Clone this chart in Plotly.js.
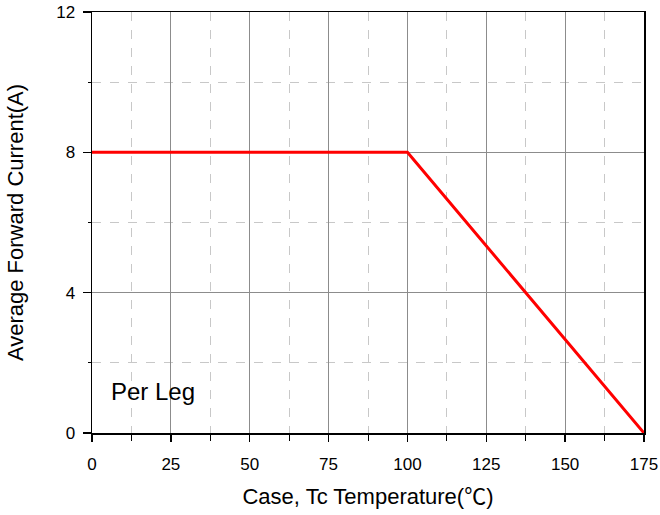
<!DOCTYPE html>
<html><head><meta charset="utf-8">
<script src="https://cdn.plot.ly/plotly-3.0.1.min.js"></script>
<style>body{margin:0;background:#fff}#chart{width:660px;height:515px}</style>
</head><body><div id="chart"></div>
<script>
const temperature = [0, 100, 175];
const current = [8, 8, 0];
const xTicks = [0, 25, 50, 75, 100, 125, 150, 175];
const yTicks = [0, 4, 8, 12];
const noteText = "Per Leg";

const trace = {x: temperature, y: current, mode: 'lines', line: {color: '#ff0000', width: 3}, hoverinfo: 'skip'};
const font = "Arial, 'Liberation Sans', sans-serif";
const layout = {
  width: 660, height: 515,
  margin: {l: 92, r: 16, t: 12, b: 82},
  paper_bgcolor: '#fff', plot_bgcolor: '#fff',
  showlegend: false,
  font: {family: font, color: '#000', size: 17},
  xaxis: {
    range: [0, 175], tickvals: xTicks, ticktext: xTicks.map(String),
    showline: true, linecolor: '#000', linewidth: 1.5, mirror: true,
    ticks: 'outside', ticklen: 7, tickcolor: '#000', tickwidth: 1.5,
    showgrid: true, gridcolor: '#8c8c8c', gridwidth: 1, zeroline: false,
    minor: {dtick: 12.5, showgrid: true, gridcolor: '#c8c8c8', griddash: 'dash', gridwidth: 1, ticks: 'outside', ticklen: 6, tickcolor: '#000', tickwidth: 1},
    tickfont: {size: 17}, ticklabelstandoff: 8,
    title: {text: 'Case, Tc Temperature(<span style="font-family:\'Noto Sans CJK SC\'">℃</span>)', font: {size: 22}, standoff: 15}
  },
  yaxis: {
    range: [0, 12], tickvals: yTicks, ticktext: yTicks.map(String),
    showline: true, linecolor: '#000', linewidth: 1.5, mirror: true,
    ticks: 'outside', ticklen: 8, tickcolor: '#000', tickwidth: 1.5,
    showgrid: true, gridcolor: '#8c8c8c', gridwidth: 1, zeroline: false,
    minor: {dtick: 2, showgrid: true, gridcolor: '#c8c8c8', griddash: 'dash', gridwidth: 1, ticks: 'outside', ticklen: 3, tickcolor: '#000', tickwidth: 1},
    tickfont: {size: 17}, ticklabelstandoff: 4,
    title: {text: 'Average Forward Current(A)', font: {size: 22}, standoff: 26}
  },
  annotations: [{x: 5.5, y: 1.17, xref: 'x', yref: 'y', xanchor: 'left', yanchor: 'middle', text: noteText, showarrow: false, font: {size: 24, color: '#000'}}]
};
Plotly.newPlot('chart', [trace], layout, {displayModeBar: false, staticPlot: true});
</script></body></html>
